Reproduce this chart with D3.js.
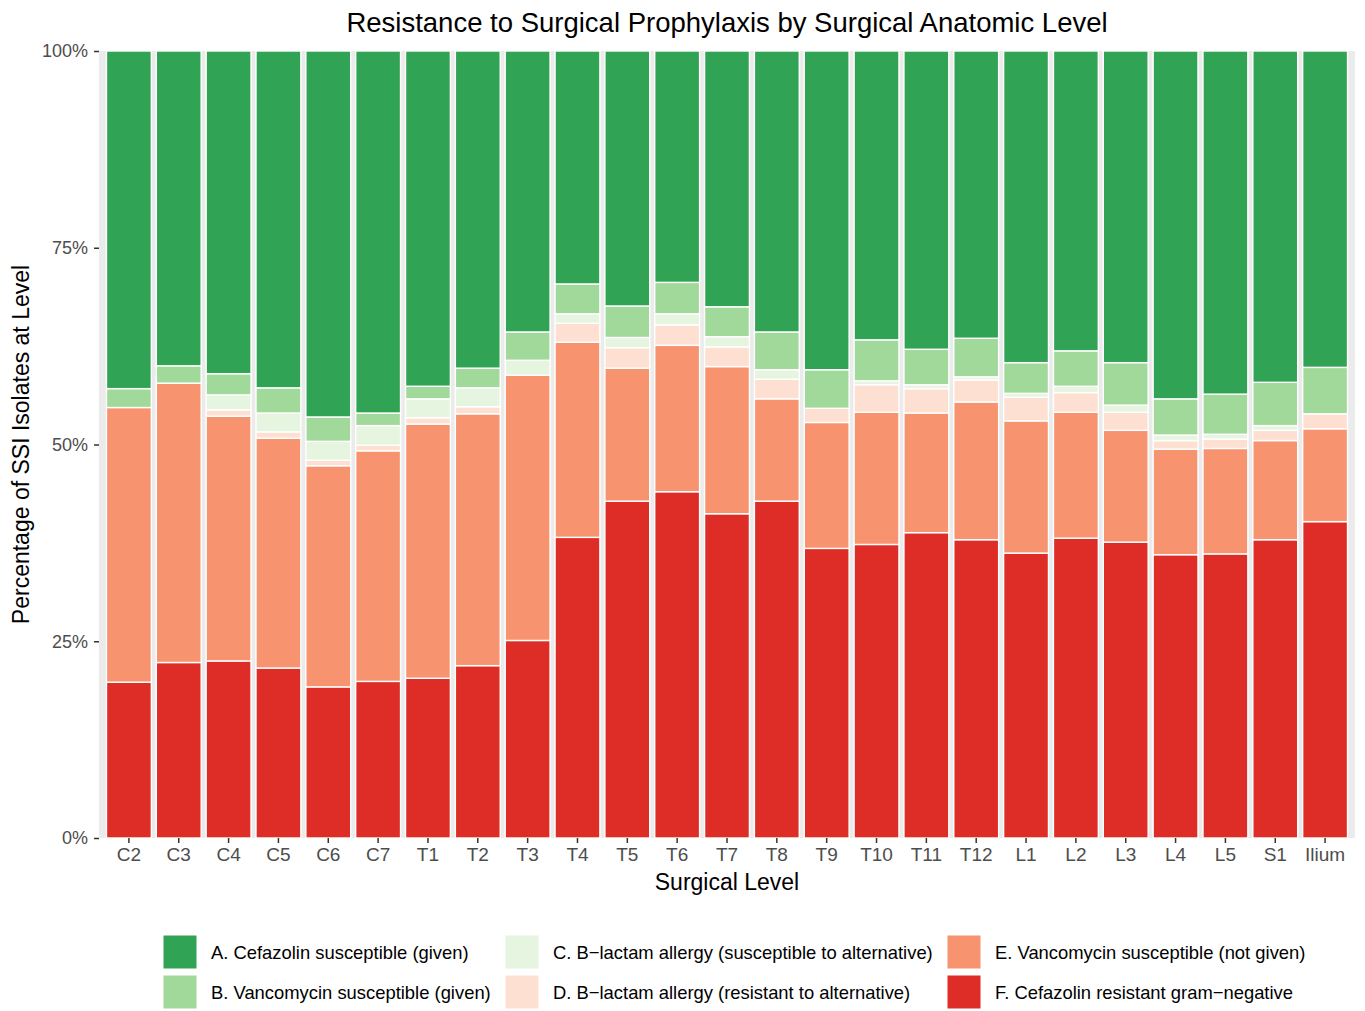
<!DOCTYPE html>
<html>
<head>
<meta charset="utf-8">
<script src="https://cdn.jsdelivr.net/npm/d3@7"></script>
<style>
  body { margin: 0; background: #fff; }
  svg text { font-family: "Liberation Sans", Arial, Helvetica, sans-serif; }
</style>
</head>
<body>
<div class="chart"></div>
<script>
// levels, bottom to top stacking is F -> A
var levels = ["C2", "C3", "C4", "C5", "C6", "C7", "T1", "T2", "T3", "T4", "T5", "T6", "T7",
    "T8", "T9", "T10", "T11", "T12", "L1", "L2", "L3", "L4", "L5", "S1", "Ilium"];

var groups = ["A. Cefazolin susceptible (given)",
    "B. Vancomycin susceptible (given)",
    "C. B\u2212lactam allergy (susceptible to alternative)",
    "D. B\u2212lactam allergy (resistant to alternative)",
    "E. Vancomycin susceptible (not given)",
    "F. Cefazolin resistant gram\u2212negative"];

var colours = ["#31a354", "#a1d99b", "#e5f5e0", "#fee0d2", "#f7936f", "#de2d26"];

// percentages per level
var pctA = [42.9, 40.0, 41.0, 42.8, 46.5, 46.0, 42.6, 40.3, 35.7, 29.6, 32.4, 29.4, 32.5,
    35.7, 40.5, 36.7, 37.9, 36.5, 39.6, 38.1, 39.6, 44.2, 43.6, 42.1, 40.2];
var pctB = [2.4, 2.2, 2.7, 3.2, 3.1, 1.6, 1.6, 2.5, 3.6, 3.8, 4.0, 4.0, 3.8,
    4.8, 4.9, 5.2, 4.5, 4.9, 3.9, 4.5, 5.4, 4.6, 5.1, 5.5, 5.9];
var pctC = [0, 0, 1.9, 2.4, 2.4, 2.5, 2.4, 2.4, 1.9, 1.2, 1.3, 1.4, 1.3,
    1.2, 0, 0.5, 0.5, 0.4, 0.5, 0.8, 0.9, 0.7, 0.6, 0.6, 0];
var pctD = [0, 0, 0.8, 0.8, 0.7, 0.7, 0.8, 0.9, 0, 2.4, 2.6, 2.6, 2.5,
    2.5, 1.8, 3.5, 3.1, 2.8, 3.0, 2.5, 2.3, 1.1, 1.2, 1.3, 1.9];
var pctE = [34.9, 35.5, 31.1, 29.2, 28.1, 29.3, 32.3, 32.0, 33.7, 24.8, 16.9, 18.6, 18.7,
    13.0, 16.0, 16.8, 15.2, 17.5, 16.8, 16.0, 14.2, 13.4, 13.4, 12.6, 11.8];
var pctF = [19.8, 22.3, 22.5, 21.6, 19.2, 19.9, 20.3, 21.9, 25.1, 38.2, 42.8, 44.0, 41.2,
    42.8, 36.8, 37.3, 38.8, 37.9, 36.2, 38.1, 37.6, 36.0, 36.1, 37.9, 40.2];

var yTicks = [0, 0.25, 0.5, 0.75, 1];

var series = [pctA, pctB, pctC, pctD, pctE, pctF];
var keys = ["A", "B", "C", "D", "E", "F"];

var table = levels.map((lv, i) => {
    var row = { level: lv };
    var total = d3.sum(series, s => s[i]);
    keys.forEach((k, j) => { row[k] = series[j][i] / total });
    return row;
});

var width = 1365, height = 1011;

var svg = d3.select(".chart").append("svg")
    .attr("width", width).attr("height", height);

var x = d3.scaleBand().domain(levels)
    .range([99, 1355]).paddingInner(0.1).paddingOuter(0.15);
var y = d3.scaleLinear().domain([0, 1]).range([838, 51]);

// panel background
svg.append("rect")
    .attr("x", 99).attr("y", 51)
    .attr("width", 1355 - 99).attr("height", 838 - 51)
    .attr("fill", "#ebebeb");

// stack from the bottom: F first
var stack = d3.stack().keys(keys.slice().reverse());
var stacked = stack(table);
var colourOf = d3.scaleOrdinal().domain(keys).range(colours);

svg.append("g").selectAll("g")
    .data(stacked)
    .enter().append("g")
    .attr("fill", d => colourOf(d.key))
    .selectAll("rect")
    .data(d => d)
    .enter().append("rect")
    .attr("x", d => x(d.data.level))
    .attr("width", x.bandwidth())
    .attr("y", d => y(d[1]))
    .attr("height", d => y(d[0]) - y(d[1]))
    .attr("stroke", "#fff")
    .attr("stroke-width", 1.4);

// y axis
var yAxis = svg.append("g")
    .attr("transform", "translate(99,0)")
    .call(d3.axisLeft(y).tickValues(yTicks).tickFormat(d3.format(".0%")).tickSize(5).tickPadding(6));
yAxis.select(".domain").remove();
yAxis.selectAll("line").attr("stroke", "#333").attr("stroke-width", 1.5);
yAxis.selectAll("text").attr("fill", "#4d4d4d").style("font-size", "18px");

// x axis
var xAxis = svg.append("g")
    .attr("transform", "translate(0,838)")
    .call(d3.axisBottom(x).tickSize(5).tickPadding(5));
xAxis.select(".domain").remove();
xAxis.selectAll("line").attr("stroke", "#333").attr("stroke-width", 1.5);
xAxis.selectAll("text").attr("fill", "#4d4d4d").style("font-size", "19px");

// titles
svg.append("text")
    .attr("x", 727).attr("y", 32)
    .attr("text-anchor", "middle")
    .style("font-size", "27.5px")
    .text("Resistance to Surgical Prophylaxis by Surgical Anatomic Level");

svg.append("text")
    .attr("x", 727).attr("y", 890)
    .attr("text-anchor", "middle")
    .style("font-size", "23px")
    .text("Surgical Level");

svg.append("text")
    .attr("transform", "translate(29,444.5) rotate(-90)")
    .attr("text-anchor", "middle")
    .style("font-size", "23px")
    .text("Percentage of SSI Isolates at Level");

// legend, 2 rows x 3 columns
var colX = [163, 505, 947];
var legend = svg.append("g").selectAll("g")
    .data(groups)
    .enter().append("g")
    .attr("transform", (d, i) => `translate(${colX[Math.floor(i / 2)]},${935 + (i % 2) * 40})`);

legend.append("rect")
    .attr("width", 34).attr("height", 34)
    .attr("fill", (d, i) => colours[i])
    .attr("stroke", "#fff").attr("stroke-width", 1);

legend.append("text")
    .attr("x", 48).attr("y", 24)
    .style("font-size", "18.4px")
    .text(d => d);
</script>
</body>
</html>
